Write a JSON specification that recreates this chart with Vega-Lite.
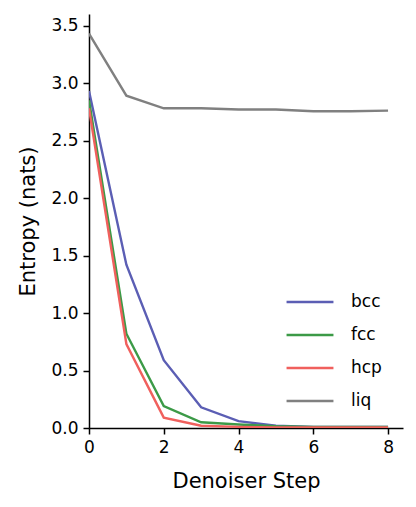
{
  "$schema": "https://vega.github.io/schema/vega-lite/v6.json",
  "width": 314,
  "height": 414,
  "autosize": "none",
  "padding": {"left": 89, "top": 14, "right": 13, "bottom": 79},
  "background": "white",
  "config": {
    "view": {"stroke": null},
    "font": "DejaVu Sans",
    "axis": {
      "grid": false,
      "domainColor": "black",
      "domainWidth": 1.5,
      "tickColor": "black",
      "tickWidth": 1.5,
      "tickSize": 6,
      "labelColor": "black",
      "labelFontSize": 17,
      "labelFont": "DejaVu Sans",
      "titleFont": "DejaVu Sans",
      "titleFontSize": 21,
      "titleFontWeight": "normal",
      "titleColor": "black",
      "labelPadding": 5,
      "labelFlush": false
    },
    "legend": {
      "labelFont": "DejaVu Sans",
      "labelFontSize": 17,
      "labelColor": "black"
    }
  },
  "data": {
    "values": [
      {"step": 0, "entropy": 2.93, "phase": "bcc"},
      {"step": 1, "entropy": 1.42, "phase": "bcc"},
      {"step": 2, "entropy": 0.59, "phase": "bcc"},
      {"step": 3, "entropy": 0.18, "phase": "bcc"},
      {"step": 4, "entropy": 0.06, "phase": "bcc"},
      {"step": 5, "entropy": 0.02, "phase": "bcc"},
      {"step": 6, "entropy": 0.01, "phase": "bcc"},
      {"step": 7, "entropy": 0.01, "phase": "bcc"},
      {"step": 8, "entropy": 0.01, "phase": "bcc"},
      {"step": 0, "entropy": 2.85, "phase": "fcc"},
      {"step": 1, "entropy": 0.82, "phase": "fcc"},
      {"step": 2, "entropy": 0.19, "phase": "fcc"},
      {"step": 3, "entropy": 0.05, "phase": "fcc"},
      {"step": 4, "entropy": 0.03, "phase": "fcc"},
      {"step": 5, "entropy": 0.015, "phase": "fcc"},
      {"step": 6, "entropy": 0.01, "phase": "fcc"},
      {"step": 7, "entropy": 0.01, "phase": "fcc"},
      {"step": 8, "entropy": 0.01, "phase": "fcc"},
      {"step": 0, "entropy": 2.78, "phase": "hcp"},
      {"step": 1, "entropy": 0.73, "phase": "hcp"},
      {"step": 2, "entropy": 0.09, "phase": "hcp"},
      {"step": 3, "entropy": 0.02, "phase": "hcp"},
      {"step": 4, "entropy": 0.01, "phase": "hcp"},
      {"step": 5, "entropy": 0.005, "phase": "hcp"},
      {"step": 6, "entropy": 0.005, "phase": "hcp"},
      {"step": 7, "entropy": 0.005, "phase": "hcp"},
      {"step": 8, "entropy": 0.005, "phase": "hcp"},
      {"step": 0, "entropy": 3.43, "phase": "liq"},
      {"step": 1, "entropy": 2.89, "phase": "liq"},
      {"step": 2, "entropy": 2.78, "phase": "liq"},
      {"step": 3, "entropy": 2.78, "phase": "liq"},
      {"step": 4, "entropy": 2.77, "phase": "liq"},
      {"step": 5, "entropy": 2.77, "phase": "liq"},
      {"step": 6, "entropy": 2.755, "phase": "liq"},
      {"step": 7, "entropy": 2.755, "phase": "liq"},
      {"step": 8, "entropy": 2.76, "phase": "liq"}
    ]
  },
  "mark": {"type": "line", "strokeWidth": 2.4, "clip": true},
  "encoding": {
    "x": {
      "field": "step",
      "type": "quantitative",
      "title": "Denoiser Step",
      "scale": {"domain": [0, 8.4], "nice": false, "zero": false},
      "axis": {"values": [0, 2, 4, 6, 8], "format": "d", "titlePadding": 15}
    },
    "y": {
      "field": "entropy",
      "type": "quantitative",
      "title": "Entropy (nats)",
      "scale": {"domain": [0, 3.6], "nice": false},
      "axis": {"values": [0, 0.5, 1, 1.5, 2, 2.5, 3, 3.5], "format": ".1f", "titlePadding": 12}
    },
    "color": {
      "field": "phase",
      "type": "nominal",
      "scale": {"domain": ["bcc", "fcc", "hcp", "liq"], "range": ["#5B5EB4", "#3C9A47", "#F0605D", "#808080"]},
      "legend": {
        "title": null,
        "orient": "none",
        "legendX": 196,
        "legendY": 263,
        "symbolType": "stroke",
        "symbolSize": 2200,
        "symbolStrokeWidth": 2.5,
        "labelOffset": 16,
        "rowPadding": -16,
        "padding": 0
      }
    }
  }
}
